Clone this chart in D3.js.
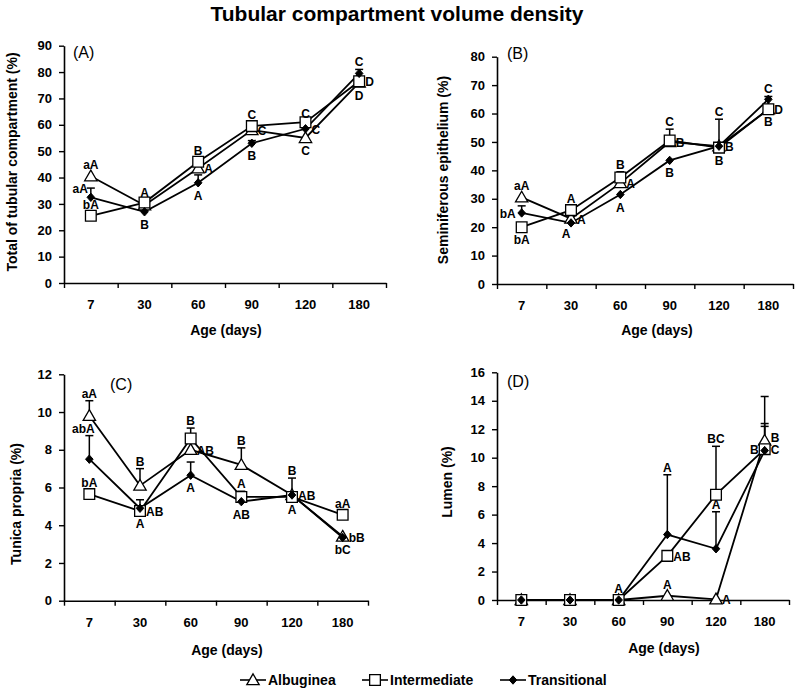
<!DOCTYPE html>
<html><head><meta charset="utf-8">
<script src="https://cdn.jsdelivr.net/npm/d3@7"></script>
<style>body{margin:0;background:#fff}svg{font-family:Arial,"Liberation Sans",sans-serif}</style>
</head><body>
<svg id="c" width="800" height="693"></svg>
<script>
// ---------- data ----------
const ages = ["7", "30", "60", "90", "120", "180"];
const seriesNames = ["Albuginea", "Intermediate", "Transitional"];

// (A) Total of tubular compartment (%)
const totalAlb = [40.5, 29.5, 43.5, 58, 55, 76];
const totalInt = [25.5, 30.5, 46, 59.5, 61, 76.5];
const totalTra = [32.5, 27, 38, 53, 58.5, 79.5];
const totalAlbErr = [0, 0, 0, 0, 0, 0];
const totalIntErr = [0, 0.8, 0, 1.5, 0.5, 0];
const totalTraErr = [3.5, 0, 3, 1, 1, 1.5];
// [series, age index, letters, side]
const totalLetters = [
  [0, 0, "aA", "above"], [2, 0, "aA", "upleft"], [1, 0, "bA", "above"],
  [1, 1, "A", "above"], [2, 1, "B", "below"],
  [1, 2, "B", "above"], [0, 2, "A", "right"], [2, 2, "A", "below"],
  [1, 3, "C", "above"], [0, 3, "C", "right"], [2, 3, "B", "below"],
  [1, 4, "C", "above"], [2, 4, "C", "right"], [0, 4, "C", "below"],
  [2, 5, "C", "above"], [1, 5, "D", "right"], [0, 5, "D", "below"]
];

// (B) Seminiferous epithelium (%)
const epiAlb = [30.5, 23, 35.5, 50, 48.5, 61.5];
const epiInt = [20, 26, 37.5, 50.5, 48, 61.5];
const epiTra = [25, 21.5, 31.5, 43.5, 48.5, 65];
const epiAlbErr = [0, 0, 0, 0, 0, 0];
const epiIntErr = [0, 0, 2, 4, 10, 0];
const epiTraErr = [2.5, 0, 0, 0, 0, 1];
const epiLetters = [
  [0, 0, "aA", "above"], [2, 0, "bA", "left"], [1, 0, "bA", "below"],
  [1, 1, "A", "above"], [2, 1, "A", "belowleft"], [0, 1, "A", "right"],
  [1, 2, "B", "above"], [0, 2, "A", "right"], [2, 2, "A", "below"],
  [1, 3, "C", "above"], [0, 3, "B", "right"], [2, 3, "B", "below"],
  [1, 4, "C", "above"], [0, 4, "B", "right"], [1, 4, "B", "below"],
  [2, 5, "C", "above"], [1, 5, "D", "right"], [0, 5, "B", "below"]
];

// (C) Tunica propria (%)
const tunAlb = [9.8, 6.1, 8.0, 7.2, 5.6, 3.4];
const tunInt = [5.65, 4.75, 8.6, 5.5, 5.5, 4.55];
const tunTra = [7.5, 4.9, 6.65, 5.25, 5.6, 3.35];
const tunAlbErr = [0.8, 0.9, 0, 0.9, 0.9, 0];
const tunIntErr = [0, 0, 0.55, 0.3, 0, 0];
const tunTraErr = [1.25, 0.45, 0.7, 0, 0, 0];
const tunLetters = [
  [0, 0, "aA", "above"], [2, 0, "abA", "aboveleft"], [1, 0, "bA", "above"],
  [0, 1, "B", "above"], [1, 1, "AB", "right"], [1, 1, "A", "below"],
  [1, 2, "B", "above"], [0, 2, "AB", "right"], [2, 2, "A", "below"],
  [0, 3, "B", "above"], [1, 3, "A", "above"], [2, 3, "AB", "below"],
  [0, 4, "B", "above"], [2, 4, "AB", "right"], [1, 4, "A", "below"],
  [1, 5, "aA", "above"], [2, 5, "bB", "right"], [2, 5, "bC", "below"]
];

// (D) Lumen (%)
const lumAlb = [0, 0, 0, 0.3, 0.05, 11.2];
const lumInt = [0, 0, 0, 3.1, 7.4, 10.6];
const lumTra = [0, 0, 0, 4.6, 3.6, 10.5];
const lumAlbErr = [0, 0, 0, 0, 0, 3.1];
const lumIntErr = [0, 0, 0, 0, 3.4, 1.8];
const lumTraErr = [0, 0, 0, 4.2, 2.6, 1.7];
const lumLetters = [
  [1, 2, "A", "above"],
  [2, 3, "A", "above"], [1, 3, "AB", "right"], [0, 3, "A", "above"],
  [1, 4, "BC", "above"], [2, 4, "A", "above"], [0, 4, "A", "right"],
  [0, 5, "B", "rightup"], [1, 5, "B", "left"], [1, 5, "C", "right"]
];

const yTicksA = [0, 10, 20, 30, 40, 50, 60, 70, 80, 90];
const yTicksB = [0, 10, 20, 30, 40, 50, 60, 70, 80];
const yTicksC = [0, 2, 4, 6, 8, 10, 12];
const yTicksD = [0, 2, 4, 6, 8, 10, 12, 14, 16];

// ---------- drawing ----------
const svg = d3.select("#c");

svg.append("text").attr("x", 397).attr("y", 21).attr("text-anchor", "middle")
  .attr("font-size", 21).attr("font-weight", "bold").text("Tubular compartment volume density");

const symTri = d3.symbol().type(d3.symbolTriangle).size(66)();
const symSq = d3.symbol().type(d3.symbolSquare).size(115)();
const symDia = "M0,-4.2L3.8,0L0,4.2L-3.8,0Z";

function drawMarker(g, s, x, y) {
  if (s === 0) g.append("path").attr("d", symTri).attr("transform", `translate(${x},${y + 1})`)
    .attr("fill", "#fff").attr("stroke", "#000").attr("stroke-width", 1.3);
  else if (s === 1) g.append("path").attr("d", symSq).attr("transform", `translate(${x},${y})`)
    .attr("fill", "#fff").attr("stroke", "#000").attr("stroke-width", 1.3);
  else g.append("path").attr("d", symDia).attr("transform", `translate(${x},${y})`)
    .attr("fill", "#000").attr("stroke", "#000").attr("stroke-width", 1);
}

function panel(cfg) {
  const g = svg.append("g");
  const x = d3.scaleBand().domain(ages).range([cfg.left, cfg.right]);
  const xEdge = d3.scaleLinear().domain([0, ages.length]).range([cfg.left, cfg.right]);
  const y = d3.scaleLinear().domain([0, cfg.yMax]).range([cfg.bottom, cfg.top]);
  const cx = a => x(a) + x.bandwidth() / 2;

  // y axis
  const ya = g.append("g").attr("transform", `translate(${cfg.left},0)`)
    .call(d3.axisLeft(y).tickValues(cfg.yTicks).tickSize(5).tickSizeOuter(0).tickPadding(7));
  ya.select(".domain").attr("stroke-width", 1.6);
  ya.selectAll(".tick line").attr("stroke-width", 1.4);
  ya.selectAll("text").attr("font-size", 13).attr("font-weight", "bold").attr("fill", "#000")
    .attr("font-family", "Arial, 'Liberation Sans', sans-serif");

  // x axis: edge ticks
  const xe = g.append("g").attr("transform", `translate(0,${cfg.bottom})`)
    .call(d3.axisBottom(xEdge).ticks(ages.length).tickSize(5).tickSizeOuter(0).tickFormat(""));
  xe.select(".domain").attr("stroke-width", 1.6);
  xe.selectAll(".tick line").attr("stroke-width", 1.4);
  // x axis: labels
  const xl = g.append("g").attr("transform", `translate(0,${cfg.bottom})`)
    .call(d3.axisBottom(x).tickSize(0).tickPadding(17));
  xl.select(".domain").remove();
  xl.selectAll("text").attr("font-size", 13).attr("font-weight", "bold").attr("fill", "#000")
    .attr("font-family", "Arial, 'Liberation Sans', sans-serif");

  // titles
  g.append("text").attr("x", cfg.xtX).attr("y", cfg.xtY).attr("text-anchor", "middle")
    .attr("font-size", 14).attr("font-weight", "bold").text("Age (days)");
  g.append("text").attr("transform", `translate(${cfg.ytX},${cfg.ytY}) rotate(-90)`)
    .attr("text-anchor", "middle").attr("font-size", 14).attr("font-weight", "bold").text(cfg.yTitle);
  g.append("text").attr("x", cfg.plX).attr("y", cfg.plY).attr("font-size", 16).text(cfg.tag);

  const line = d3.line().x((d, i) => cx(ages[i])).y(d => y(d));
  cfg.series.forEach(vals => {
    g.append("path").attr("d", line(vals)).attr("fill", "none").attr("stroke", "#000").attr("stroke-width", 1.8);
  });
  // error bars
  cfg.series.forEach((vals, s) => {
    vals.forEach((v, i) => {
      const e = cfg.errs[s][i];
      if (!e) return;
      const px = cx(ages[i]);
      g.append("line").attr("x1", px).attr("x2", px).attr("y1", y(v)).attr("y2", y(v + e))
        .attr("stroke", "#000").attr("stroke-width", 1.5);
      g.append("line").attr("x1", px - 4).attr("x2", px + 4).attr("y1", y(v + e)).attr("y2", y(v + e))
        .attr("stroke", "#000").attr("stroke-width", 1.5);
    });
  });
  // markers
  cfg.series.forEach((vals, s) => vals.forEach((v, i) => drawMarker(g, s, cx(ages[i]), y(v))));

  // letters
  cfg.letters.forEach(([s, i, txt, side]) => {
    const v = cfg.series[s][i], e = cfg.errs[s][i];
    const px = cx(ages[i]), py = y(v);
    let tx = px, ty = py, anchor = "middle";
    if (side === "above") { ty = e ? y(v + e) - 3 : py - 7; }
    else if (side === "aboveleft") { ty = y(v + e) - 3; tx = px - 6; }
    else if (side === "below") { ty = py + 17; }
    else if (side === "belowleft") { ty = py + 15; tx = px - 5; }
    else if (side === "right") { tx = px + 6; ty = py + 5; anchor = "start"; }
    else if (side === "rightup") { tx = px + 6; ty = py + 1; anchor = "start"; }
    else if (side === "left") { tx = px - 6; ty = py + 5; anchor = "end"; }
    else if (side === "upleft") { tx = px - 3; ty = y(v + e) + 5; anchor = "end"; }
    g.append("text").attr("x", tx).attr("y", ty).attr("text-anchor", anchor)
      .attr("font-size", 12).attr("font-weight", "bold").text(txt);
  });
}

panel({ left: 64, right: 386, top: 45.7, bottom: 283, yMax: 90, yTicks: yTicksA,
  series: [totalAlb, totalInt, totalTra], errs: [totalAlbErr, totalIntErr, totalTraErr],
  letters: totalLetters, yTitle: "Total of tubular compartment (%)", tag: "(A)",
  xtX: 226, xtY: 335, ytX: 17, ytY: 162, plX: 73, plY: 58 });

panel({ left: 497, right: 793, top: 56.7, bottom: 284, yMax: 80, yTicks: yTicksB,
  series: [epiAlb, epiInt, epiTra], errs: [epiAlbErr, epiIntErr, epiTraErr],
  letters: epiLetters, yTitle: "Seminiferous epithelium (%)", tag: "(B)",
  xtX: 657, xtY: 335, ytX: 448, ytY: 170, plX: 507, plY: 59 });

panel({ left: 64, right: 368, top: 374.3, bottom: 600.7, yMax: 12, yTicks: yTicksC,
  series: [tunAlb, tunInt, tunTra], errs: [tunAlbErr, tunIntErr, tunTraErr],
  letters: tunLetters, yTitle: "Tunica propria (%)", tag: "(C)",
  xtX: 227, xtY: 655, ytX: 21, ytY: 504, plX: 110, plY: 390 });

panel({ left: 497, right: 789, top: 372.3, bottom: 600, yMax: 16, yTicks: yTicksD,
  series: [lumAlb, lumInt, lumTra], errs: [lumAlbErr, lumIntErr, lumTraErr],
  letters: lumLetters, yTitle: "Lumen (%)", tag: "(D)",
  xtX: 664, xtY: 653, ytX: 452, ytY: 482, plX: 507, plY: 387 });

// legend
const legX = [240, 362, 500];
seriesNames.forEach((name, s) => {
  const lg = svg.append("g");
  const x0 = legX[s], yc = 680;
  lg.append("line").attr("x1", x0).attr("x2", x0 + 26).attr("y1", yc).attr("y2", yc)
    .attr("stroke", "#000").attr("stroke-width", 1.6);
  drawMarker(lg, s, x0 + 13, yc);
  lg.append("text").attr("x", x0 + 28).attr("y", yc + 5).attr("font-size", 14)
    .attr("font-weight", "bold").text(name);
});
</script>
</body></html>
